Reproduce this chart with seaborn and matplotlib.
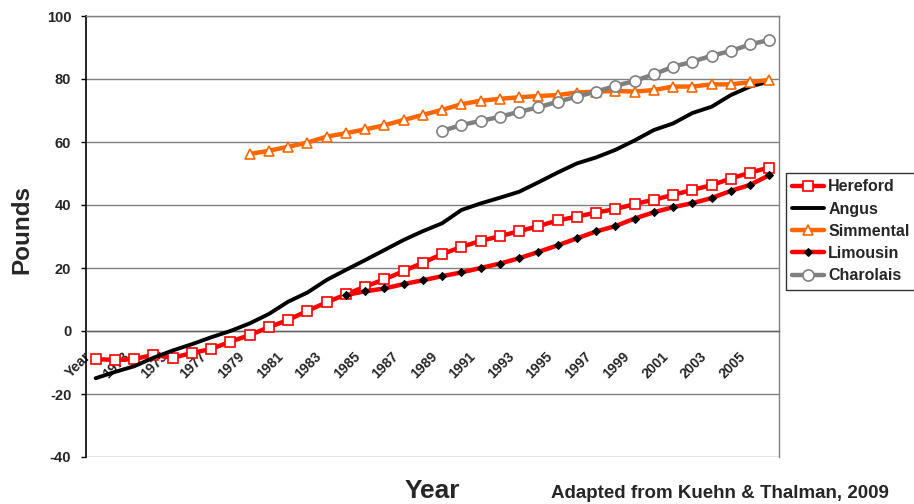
import numpy as np
import pandas as pd
import matplotlib
matplotlib.use("Agg")
import matplotlib.pyplot as plt
import matplotlib.transforms as mtransforms
import seaborn as sns

nan = np.nan
categories = ["Year"] + [str(y) for y in range(1972, 2007)]

hereford = [-8.9, -9.2, -8.9, -7.6, -8.5, -7.0, -5.7, -3.4, -1.3, 1.2, 3.5,
            6.4, 9.1, 11.6, 14.1, 16.4, 19.0, 21.7, 24.4, 26.7, 28.6, 30.1,
            31.7, 33.3, 35.1, 36.3, 37.6, 38.7, 40.3, 41.7, 43.2, 44.8, 46.3,
            48.4, 50.3, 51.9]
angus = [-15, -13, -11.2, -8.5, -6.2, -4.2, -2, 0, 2.4, 5.4, 9.3, 12.2, 16.2,
         19.4, 22.5, 25.7, 28.9, 31.7, 34.2, 38.4, 40.5, 42.3, 44.2, 47.2,
         50.3, 53.2, 55.1, 57.5, 60.5, 63.8, 65.9, 69.2, 71.2, 74.9, 77.6, 79.2]
simmental = [nan] * 8 + [56.2, 57.2, 58.5, 59.8, 61.7, 62.8, 64.0, 65.3, 67.0,
                         68.6, 70.2, 72.0, 73.1, 73.7, 74.2, 74.6, 74.9, 75.7,
                         76.0, 76.2, 76.0, 76.5, 77.6, 77.6, 78.3, 78.3, 79.0,
                         79.7]
limousin = [nan] * 13 + [11.4, 12.6, 13.5, 14.9, 16.1, 17.4, 18.6, 20.0, 21.4,
                         23.1, 25.1, 27.2, 29.4, 31.6, 33.3, 35.7, 37.7, 39.3,
                         40.6, 42.2, 44.5, 46.4, 49.5]
charolais = [nan] * 18 + [63.5, 65.4, 66.7, 68.0, 69.6, 71.0, 72.8, 74.4, 76.0,
                          77.8, 79.4, 81.5, 83.9, 85.5, 87.4, 88.9, 91.0, 92.4]

yticks = [-40, -20, 0, 20, 40, 60, 80, 100]

sns.set_style("white")
plt.rcParams['font.family'] = ['Liberation Sans', 'DejaVu Sans']
plt.rcParams['font.weight'] = 'bold'

fig = plt.figure(figsize=(9.14, 5.04), dpi=100)
ax = fig.add_axes([86 / 914, 1 - 457 / 504, (779 - 86) / 914, (457 - 16) / 504])

pos = np.arange(len(categories))
df = pd.DataFrame({"pos": pos, "Hereford": hereford, "Angus": angus,
                   "Simmental": simmental, "Limousin": limousin,
                   "Charolais": charolais})

sns.lineplot(data=df, x="pos", y="Hereford", ax=ax, color="#FF0000", lw=3.2,
             marker="s", ms=7, mfc="white", mec="#FF0000", mew=1.2,
             label="Hereford", zorder=3)
sns.lineplot(data=df, x="pos", y="Angus", ax=ax, color="black", lw=2.8,
             label="Angus", zorder=3)
sns.lineplot(data=df, x="pos", y="Simmental", ax=ax, color="#FF6600", lw=3.2,
             marker="^", ms=7, mfc="white", mec="#FF6600", mew=1.2,
             label="Simmental", zorder=3)
sns.lineplot(data=df, x="pos", y="Limousin", ax=ax, color="#FF0000", lw=3.2,
             marker="D", ms=4.5, mfc="black", mec="black",
             label="Limousin", zorder=4)
sns.lineplot(data=df, x="pos", y="Charolais", ax=ax, color="#808080", lw=3.2,
             marker="o", ms=8, mfc="white", mec="#808080", mew=1.2,
             label="Charolais", zorder=4)

ax.set_xlim(-0.5, len(categories) - 0.5)
ax.set_ylim(-40, 100)
ax.set_yticks(yticks)
ax.set_yticklabels([str(v) for v in yticks], fontsize=10.5, fontweight='bold')
for v in yticks:
    ax.axhline(v, color="#808080", lw=1.0, zorder=1)

# x axis at zero
ax.spines['bottom'].set_position(('data', 0))
ax.spines['bottom'].set_color('#606060')
ax.spines['bottom'].set_linewidth(1.0)
ax.spines['left'].set_color('black')
ax.spines['left'].set_linewidth(1.2)
ax.spines['top'].set_color('#808080')
ax.spines['right'].set_color('#808080')
ax.spines['right'].set_linewidth(1.0)
ax.spines['top'].set_linewidth(1.0)

ax.set_xticks(np.arange(-0.5, len(categories), 1.0))
ax.set_xticklabels([])
ax.tick_params(axis='x', which='major', direction='out', length=4, width=1,
               color='#404040')
ax.set_xticks(pos[::2], minor=True)
ax.set_xticklabels(categories[::2], minor=True, rotation=45, ha='right',
                   va='center', rotation_mode='anchor', fontsize=10,
                   fontweight='bold')
ax.tick_params(axis='x', which='minor', length=0, pad=17)
shift = mtransforms.ScaledTranslation(-7 / 100, 0, fig.dpi_scale_trans)
for lab in ax.get_xticklabels(minor=True):
    lab.set_transform(lab.get_transform() + shift)
ax.tick_params(axis='y', direction='out', length=3.6, width=1, color='black',
               left=True, pad=7)

ax.set_xlabel("")
ax.set_ylabel("")
fig.text(22 / 914, 1 - 230 / 504, "Pounds", rotation=90, fontsize=17.5,
         fontweight='bold', ha='center', va='center')
fig.text(432 / 914, 1 - 491 / 504, "Year", fontsize=19, fontweight='bold',
         ha='center', va='center')
fig.text(889 / 914, 1 - 493 / 504, "Adapted from Kuehn & Thalman, 2009",
         fontsize=13.5, fontweight='bold', ha='right', va='center')

handles, labels = ax.get_legend_handles_labels()
leg = fig.legend(handles, labels, loc='upper left',
                 bbox_to_anchor=(786 / 914, 1 - 173 / 504), fontsize=11.5,
                 frameon=True, fancybox=False, edgecolor='black',
                 handlelength=2.0, handletextpad=0.25, borderpad=0.4,
                 labelspacing=0.45, borderaxespad=0)
leg.get_frame().set_linewidth(1.0)
for t in leg.get_texts():
    t.set_fontweight('bold')
if ax.legend_:
    ax.legend_.remove()

fig.savefig("out.png", dpi=100)
